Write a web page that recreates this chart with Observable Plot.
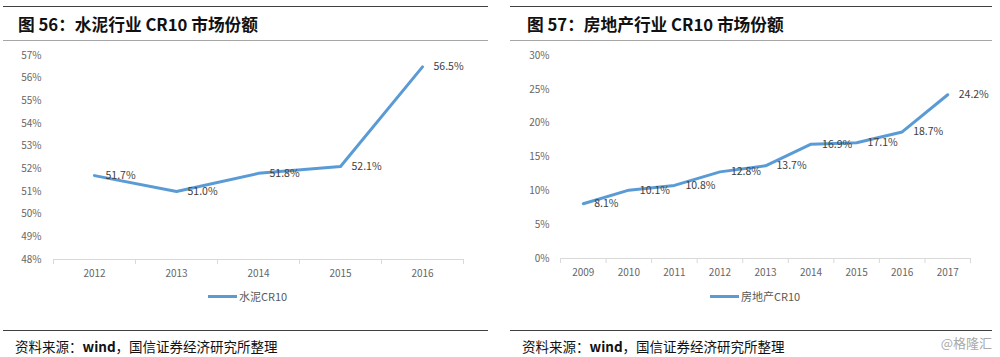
<!DOCTYPE html>
<html>
<head>
<meta charset="utf-8">
<script src="https://cdn.jsdelivr.net/npm/d3@7"></script>
<script src="https://cdn.jsdelivr.net/npm/@observablehq/plot@0.6"></script>
<style>
  body { margin: 0; background: #fff; }
  #root { position: relative; width: 1000px; height: 357px; overflow: hidden; font-family: "Noto Sans CJK SC", "Noto Sans", sans-serif; }
  .abs { position: absolute; }
  .hr { position: absolute; height: 0; }
  .title { position: absolute; font-size: 16.7px; font-weight: bold; color: #111; white-space: nowrap; line-height: 1; }
  .caption { position: absolute; font-size: 13.5px; color: #111; white-space: nowrap; line-height: 1; }
  .legend { position: absolute; font-size: 11px; color: #595959; white-space: nowrap; display: flex; align-items: center; line-height: 1; }
  .legend span.sw { display: inline-block; width: 29px; height: 3px; background: #5B9BD5; margin-right: 2px; }
</style>
</head>
<body>
<div id="root"></div>
<script>
const cementYears = [2012, 2013, 2014, 2015, 2016];
const cementShare = [51.7, 51.0, 51.8, 52.1, 56.5];
const cementTicks = [48, 49, 50, 51, 52, 53, 54, 55, 56, 57];

const estateYears = [2009, 2010, 2011, 2012, 2013, 2014, 2015, 2016, 2017];
const estateShare = [8.1, 10.1, 10.8, 12.8, 13.7, 16.9, 17.1, 18.7, 24.2];
const estateTicks = [0, 5, 10, 15, 20, 25, 30];

const titles = ["图 56：水泥行业 CR10 市场份额", "图 57：房地产行业 CR10 市场份额"];
const seriesNames = ["水泥CR10", "房地产CR10"];
const captionText = "资料来源：<b>wind</b>，国信证券经济研究所整理";
const watermark = "@格隆汇";

const root = document.getElementById("root");
const LINE = "#5B9BD5";

function el(cls, style, html) {
  const d = document.createElement("div");
  d.className = cls;
  Object.assign(d.style, style);
  if (html != null) d.innerHTML = html;
  root.appendChild(d);
  return d;
}

function chart(years, values, ticks, opts) {
  const data = years.map((y, i) => ({year: y, v: values[i]}));
  const edges = [years[0] - 0.5, ...years.map(y => y + 0.5)];
  const svg = Plot.plot({
    width: 490,
    height: 240,
    marginLeft: opts.marginLeft,
    marginRight: opts.marginRight,
    marginTop: 15,
    marginBottom: opts.marginBottom,
    style: {fontFamily: '"Noto Sans CJK SC", "Noto Sans", sans-serif', fontSize: "10px", background: "transparent"},
    x: {domain: [years[0] - 0.5, years[years.length - 1] + 0.5]},
    y: {domain: [ticks[0], ticks[ticks.length - 1]]},
    marks: [
      Plot.ruleY([ticks[0]], {stroke: "#d9d9d9", strokeWidth: 1}),
      Plot.axisX({ticks: edges, tickSize: 5, tickFormat: () => "", color: "#d9d9d9", label: null}),
      Plot.axisX({ticks: years, tickSize: 0, tickPadding: 10, tickFormat: d => String(d), color: "#666", label: null, fontSize: 10}),
      Plot.axisY({ticks: ticks, tickSize: 0, tickPadding: opts.yPad, tickFormat: d => d + "%", color: "#666", label: null, fontSize: 10}),
      Plot.line(data, {x: "year", y: "v", stroke: LINE, strokeWidth: 3, strokeLinejoin: "round", strokeLinecap: "round"}),
      Plot.text(data, {x: "year", y: "v", text: d => d.v.toFixed(1) + "%", dx: 11, textAnchor: "start", fill: "#404040", fontSize: 10.5})
    ]
  });
  svg.style.position = "absolute";
  svg.style.left = opts.left + "px";
  svg.style.top = "40px";
  root.appendChild(svg);
}

// Panel frames
[[3, 488], [510, 992]].forEach(([x0, x1], i) => {
  el("hr", {left: x0 + "px", top: "6px", width: (x1 - x0) + "px", borderTop: "1.5px solid #404040"});
  el("hr", {left: x0 + "px", top: "40px", width: (x1 - x0) + "px", borderTop: "1px solid #a6a6a6"});
  el("hr", {left: x0 + "px", top: "330px", width: (x1 - x0) + "px", borderTop: "1px solid #404040"});
});

el("title", {left: "18px", top: "16px"}, titles[0]);
el("title", {left: "527px", top: "16px"}, titles[1]);

chart(cementYears, cementShare, cementTicks, {left: 0, marginLeft: 53, marginRight: 27, marginBottom: 21, yPad: 12});
chart(estateYears, estateShare, estateTicks, {left: 500, marginLeft: 60, marginRight: 20, marginBottom: 22, yPad: 11});

el("legend", {left: "208px", top: "291px"}, '<span class="sw"></span>' + seriesNames[0]);
el("legend", {left: "710px", top: "291px"}, '<span class="sw"></span>' + seriesNames[1]);

el("caption", {left: "15px", top: "340px"}, captionText);
el("caption", {left: "522px", top: "340px"}, captionText);
el("caption", {right: "8px", top: "336px", color: "#aaa", fontSize: "13px"}, watermark);
</script>
</body>
</html>
